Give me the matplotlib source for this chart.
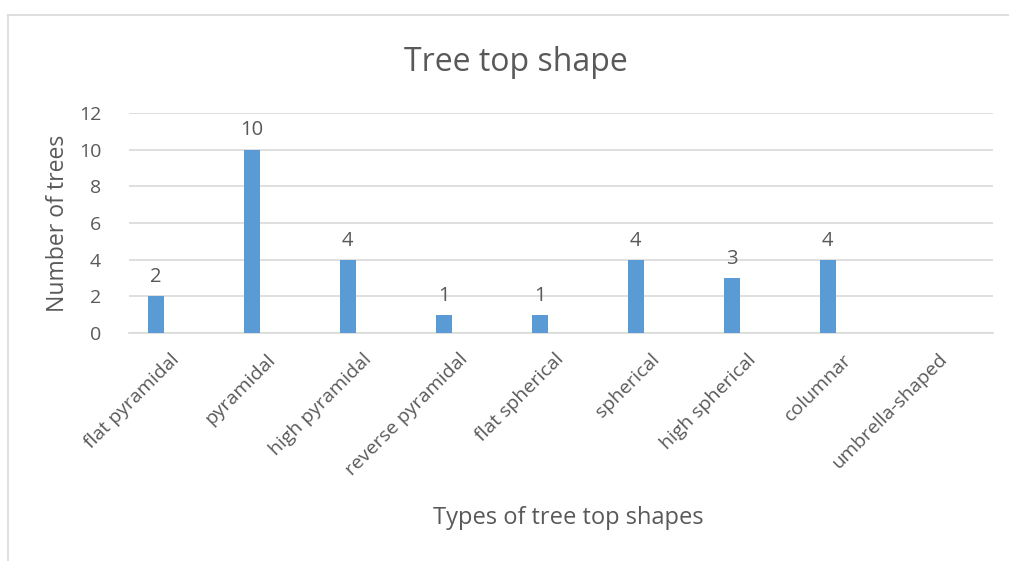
import matplotlib
matplotlib.use("Agg")
import matplotlib.pyplot as plt
from matplotlib.lines import Line2D

shapes = ["flat pyramidal", "pyramidal", "high pyramidal", "reverse pyramidal",
          "flat spherical", "spherical", "high spherical", "columnar", "umbrella-shaped"]
counts = [2, 10, 4, 1, 1, 4, 3, 4, None]
y_ticks = [0, 2, 4, 6, 8, 10, 12]

plt.rcParams['font.family'] = ['Open Sans', 'DejaVu Sans']
text_col = "#595959"
bar_col = "#5B9BD5"

fig = plt.figure(figsize=(10.09, 5.61), dpi=100)
ax = fig.add_axes([0.1278, 0.4064, 0.8562, 0.3922])

xs = list(range(len(shapes)))
bar_x = [x - 0.22 for x, c in zip(xs, counts) if c is not None]
bar_h = [c for c in counts if c is not None]
ax.bar(bar_x, bar_h, width=0.17, color=bar_col, zorder=3)
for x, h in zip(bar_x, bar_h):
    ax.text(x, h + 0.5, str(h), ha="center", va="bottom", fontsize=14.5, color=text_col)

ax.set_xlim(-0.5, len(shapes) - 0.5)
ax.set_ylim(0, 12)
ax.set_yticks(y_ticks)
ax.yaxis.grid(True, color="#D9D9D9", linewidth=1.2, zorder=0)
ax.set_xticks(xs)
ax.set_xticklabels(shapes, rotation=45, ha="right", va="center", rotation_mode="anchor",
                   fontsize=14, color=text_col)
ax.tick_params(axis="both", length=0, labelsize=14, labelcolor=text_col)
ax.tick_params(axis="x", pad=17)
ax.tick_params(axis="y", pad=20)
for s in ["top", "right", "left"]:
    ax.spines[s].set_visible(False)
ax.spines["bottom"].set_color("#D9D9D9")
ax.spines["bottom"].set_linewidth(1.2)

ax.set_ylabel("Number of trees", fontsize=16.6, color=text_col, labelpad=6)
fig.text(0.563, 0.076, "Types of tree top shapes", ha="center", va="center",
         fontsize=17, color=text_col)
fig.text(0.511, 0.888, "Tree top shape", ha="center", va="center",
         fontsize=23, color=text_col)

# chart border (left and top edges visible)
fig.add_artist(Line2D([0.008, 0.008], [0.0, 0.973], color="#D9D9D9", linewidth=1.2,
                      transform=fig.transFigure))
fig.add_artist(Line2D([0.008, 1.0], [0.973, 0.973], color="#D9D9D9", linewidth=1.2,
                      transform=fig.transFigure))

fig.savefig("out.png", dpi=100, facecolor="white")
